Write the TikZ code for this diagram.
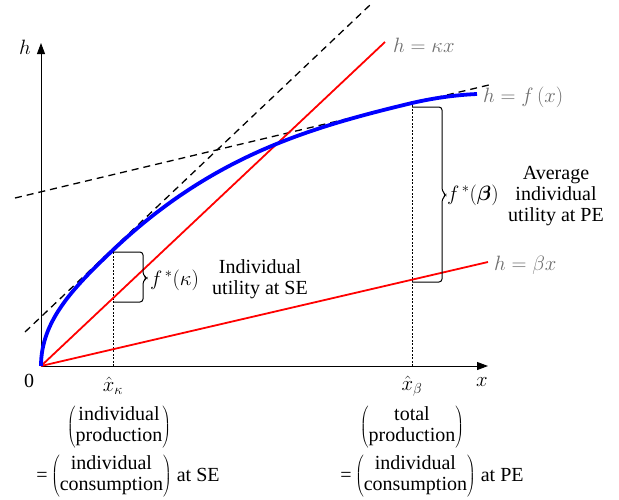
\documentclass[tikz,border=0pt]{standalone}
\usepackage{fontspec}
\usepackage{bm}
\setmainfont{Liberation Serif}
\usetikzlibrary{arrows.meta}
\definecolor{lblgray}{RGB}{110,110,110}
\begin{document}
\begin{tikzpicture}[x=1pt,y=-1pt,
  txt/.style={font=\fontsize{20}{21}\selectfont, inner sep=0pt, align=center},
  lbl/.style={txt, text=lblgray, anchor=west},
  axis/.style={line width=0.9pt, -{Triangle[length=11pt,width=8pt]}},
  redline/.style={red, line width=1.8pt},
  tangent/.style={black, line width=1.3pt, dash pattern=on 7pt off 5pt},
  guide/.style={black, line width=0.7pt, dash pattern=on 2pt off 1.5pt},
  bracket/.style={black, line width=1pt, rounded corners=3pt},
  curve/.style={blue, line width=3.8pt}]
\useasboundingbox (0,0) rectangle (619,499);

% key points
\coordinate (O) at (41,366);
\coordinate (Ytop) at (41,43);
\coordinate (Xend) at (488,366);
\coordinate (Tk) at (113,250);
\coordinate (Tb) at (412,103);
\coordinate (Fk) at (113,366);
\coordinate (Fb) at (412,366);
\coordinate (Kend) at (385,42);
\coordinate (Bend) at (488,262);
\coordinate (TkA) at (25,332);
\coordinate (TkB) at (370,5);
\coordinate (TbA) at (15,198);
\coordinate (TbB) at (493,84);

% axes
\draw[axis] (O) -- (Ytop);
\draw[axis] (O) -- (Xend);
\node[txt] (hlab) at (25,47) {$h$};
\node[txt] (xlab) at (482,382) {$x$};
\node[txt] (zero) at (29,381) {0};

% guides
\draw[guide] (Fk) -- (Tk);
\draw[guide] (Fb) -- (Tb);

% tangents
\draw[tangent] (TkA) -- (TkB);
\draw[tangent] (TbA) -- (TbB);

% red lines
\draw[redline] (O) -- (Kend);
\draw[redline] (O) -- (Bend);

% curve
\draw[curve] (O) .. controls (41,321) and (73,288) .. (Tk)
  .. controls (213,155) and (312,127) .. (Tb)
  .. controls (434,98) and (455,95) .. (477,94) coordinate (Fend);

% brackets
\draw[bracket] (113,252) -- (143,252) -- (143,275) -- (147,278) -- (143,281) -- (143,302) -- (113,302);
\draw[bracket] (412,107) -- (442,107) -- (442,191) -- (446,195) -- (442,199) -- (442,282) -- (412,282);

% line labels
\node[lbl] (lk) at (393,45) {$h=\kappa x$};
\node[lbl] (lf) at (483,97) {$h=f\,(x)$};
\node[lbl] (lb) at (494,265) {$h=\beta x$};

% bracket labels
\node[txt, anchor=west] (fk) at (150,280) {$f^{\,*}(\kappa)$};
\node[txt] (usek) at (260,279) {Individual\\utility at SE};
\node[txt, anchor=west] (fb) at (447,195) {$f^{\,*}(\bm{\beta})$};
\node[txt] (upe) at (556,196) {Average\\individual\\utility at PE};

% axis tick labels
\node[txt] (xk) at (113,386) {$\hat{x}_{\kappa}$};
\node[txt] (xb) at (412,386) {$\hat{x}_{\beta}$};

% bottom texts
\node[txt] (prodk) at (119,427) {$\left(\mbox{\begin{tabular}{@{}c@{}}individual\\production\end{tabular}}\right)$};
\node[txt] (consk) at (128,476) {=\,$\left(\mbox{\begin{tabular}{@{}c@{}}individual\\consumption\end{tabular}}\right)$ at SE};
\node[txt] (prodb) at (412,427) {$\left(\mbox{\begin{tabular}{@{}c@{}}total\\production\end{tabular}}\right)$};
\node[txt] (consb) at (432,476) {=\,$\left(\mbox{\begin{tabular}{@{}c@{}}individual\\consumption\end{tabular}}\right)$ at PE};
\end{tikzpicture}
\end{document}
